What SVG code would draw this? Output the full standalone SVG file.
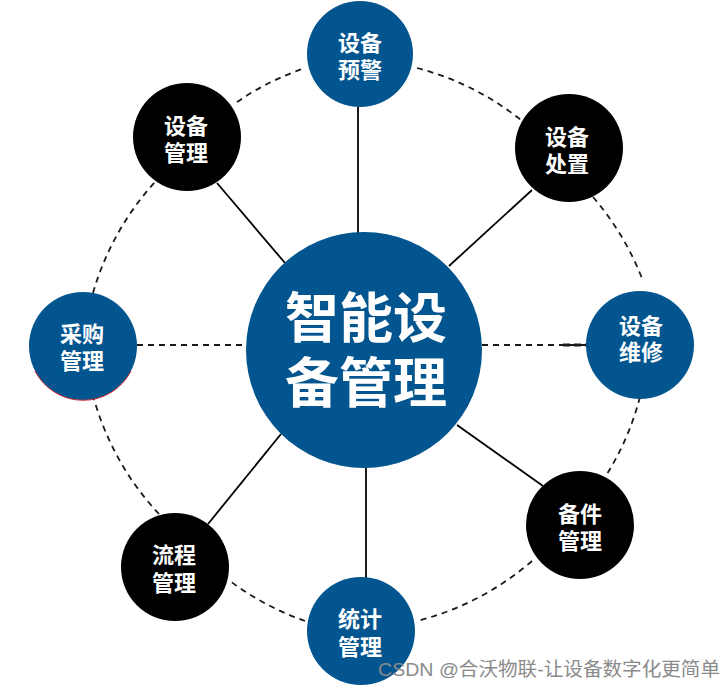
<svg xmlns="http://www.w3.org/2000/svg" width="728" height="688" viewBox="0 0 728 688">
<style>
.blue{fill:#02558f}
.black{fill:#000}
.lbl{font-family:"Liberation Sans","Noto Sans CJK SC",sans-serif;font-weight:bold;fill:#fff;font-size:22px;text-anchor:middle;dominant-baseline:central}
.big{font-size:54px}
.solid{stroke:#000;stroke-width:1.8;fill:none}
.dash{stroke:#1a1a1a;stroke-width:1.8;fill:none;stroke-dasharray:6 5}
.wm{font-family:"Liberation Sans","Noto Sans CJK SC",sans-serif;font-size:19px;fill:#8a8a8a}
</style>
<rect width="728" height="688" fill="#fff"/>
<g id="connectors">
<path class="dash" d="M237 102 A280 280 0 0 1 305 68"/>
<path class="dash" d="M417 68 A280 280 0 0 1 521 120"/>
<path class="dash" d="M593 197 A280 280 0 0 1 643 281"/>
<path class="dash" d="M640 397 A280 280 0 0 1 607 474"/>
<path class="dash" d="M532 561 A280 280 0 0 1 417 621"/>
<path class="dash" d="M305 621 A280 280 0 0 1 230 581"/>
<path class="dash" d="M159 514 A280 280 0 0 1 94 399"/>
<path class="dash" d="M93 293 A280 280 0 0 1 155 182"/>
<line class="dash" x1="137" y1="345" x2="245" y2="345"/>
<line class="dash" x1="482" y1="345" x2="587" y2="345"/>
<line x1="563" y1="345" x2="587" y2="345" stroke="#1a1a1a" stroke-width="3" stroke-dasharray="7 4"/>
<line class="solid" x1="358" y1="107" x2="358" y2="233"/>
<line class="solid" x1="217" y1="183" x2="285" y2="263"/>
<line class="solid" x1="532" y1="190" x2="449" y2="266"/>
<line class="solid" x1="457" y1="425" x2="543" y2="486"/>
<line class="solid" x1="366" y1="467" x2="366" y2="578"/>
<line class="solid" x1="281" y1="434" x2="208" y2="524"/>
</g>
<g id="center">
<circle class="blue" cx="364" cy="350" r="118"/>
<text class="lbl big"><tspan x="366" y="319">智能设</tspan><tspan x="366" y="384">备管理</tspan></text>
</g>
<g id="n-yujing">
<circle class="blue" cx="360" cy="54" r="53"/>
<text class="lbl"><tspan x="360" y="43">设备</tspan><tspan x="360" y="70">预警</tspan></text>
</g>
<g id="n-shebeiguanli">
<circle class="black" cx="187" cy="137" r="54"/>
<text class="lbl"><tspan x="186" y="126">设备</tspan><tspan x="186" y="153">管理</tspan></text>
</g>
<g id="n-chuzhi">
<circle class="black" cx="569" cy="148" r="54"/>
<text class="lbl"><tspan x="567" y="137">设备</tspan><tspan x="567" y="164">处置</tspan></text>
</g>
<g id="n-weixiu">
<circle class="blue" cx="640" cy="345" r="54"/>
<text class="lbl"><tspan x="641" y="326">设备</tspan><tspan x="641" y="352">维修</tspan></text>
</g>
<g id="n-beijian">
<circle class="black" cx="580" cy="525" r="54"/>
<text class="lbl"><tspan x="580" y="514">备件</tspan><tspan x="580" y="541">管理</tspan></text>
</g>
<g id="n-tongji">
<circle class="blue" cx="361" cy="631" r="54"/>
<text class="lbl"><tspan x="360" y="619">统计</tspan><tspan x="360" y="647">管理</tspan></text>
</g>
<g id="n-liucheng">
<circle class="black" cx="175" cy="567" r="54"/>
<text class="lbl"><tspan x="174" y="555">流程</tspan><tspan x="174" y="583">管理</tspan></text>
</g>
<g id="n-caigou">
<circle class="blue" cx="83" cy="346" r="54"/>
<path d="M131 371 A54 54 0 0 1 35 371" fill="none" stroke="#c0202a" stroke-width="1"/>
<text class="lbl"><tspan x="82" y="334">采购</tspan><tspan x="82" y="361">管理</tspan></text>
</g>
<text class="wm" x="378" y="676" textLength="342" lengthAdjust="spacingAndGlyphs">CSDN @合沃物联-让设备数字化更简单</text>
</svg>
